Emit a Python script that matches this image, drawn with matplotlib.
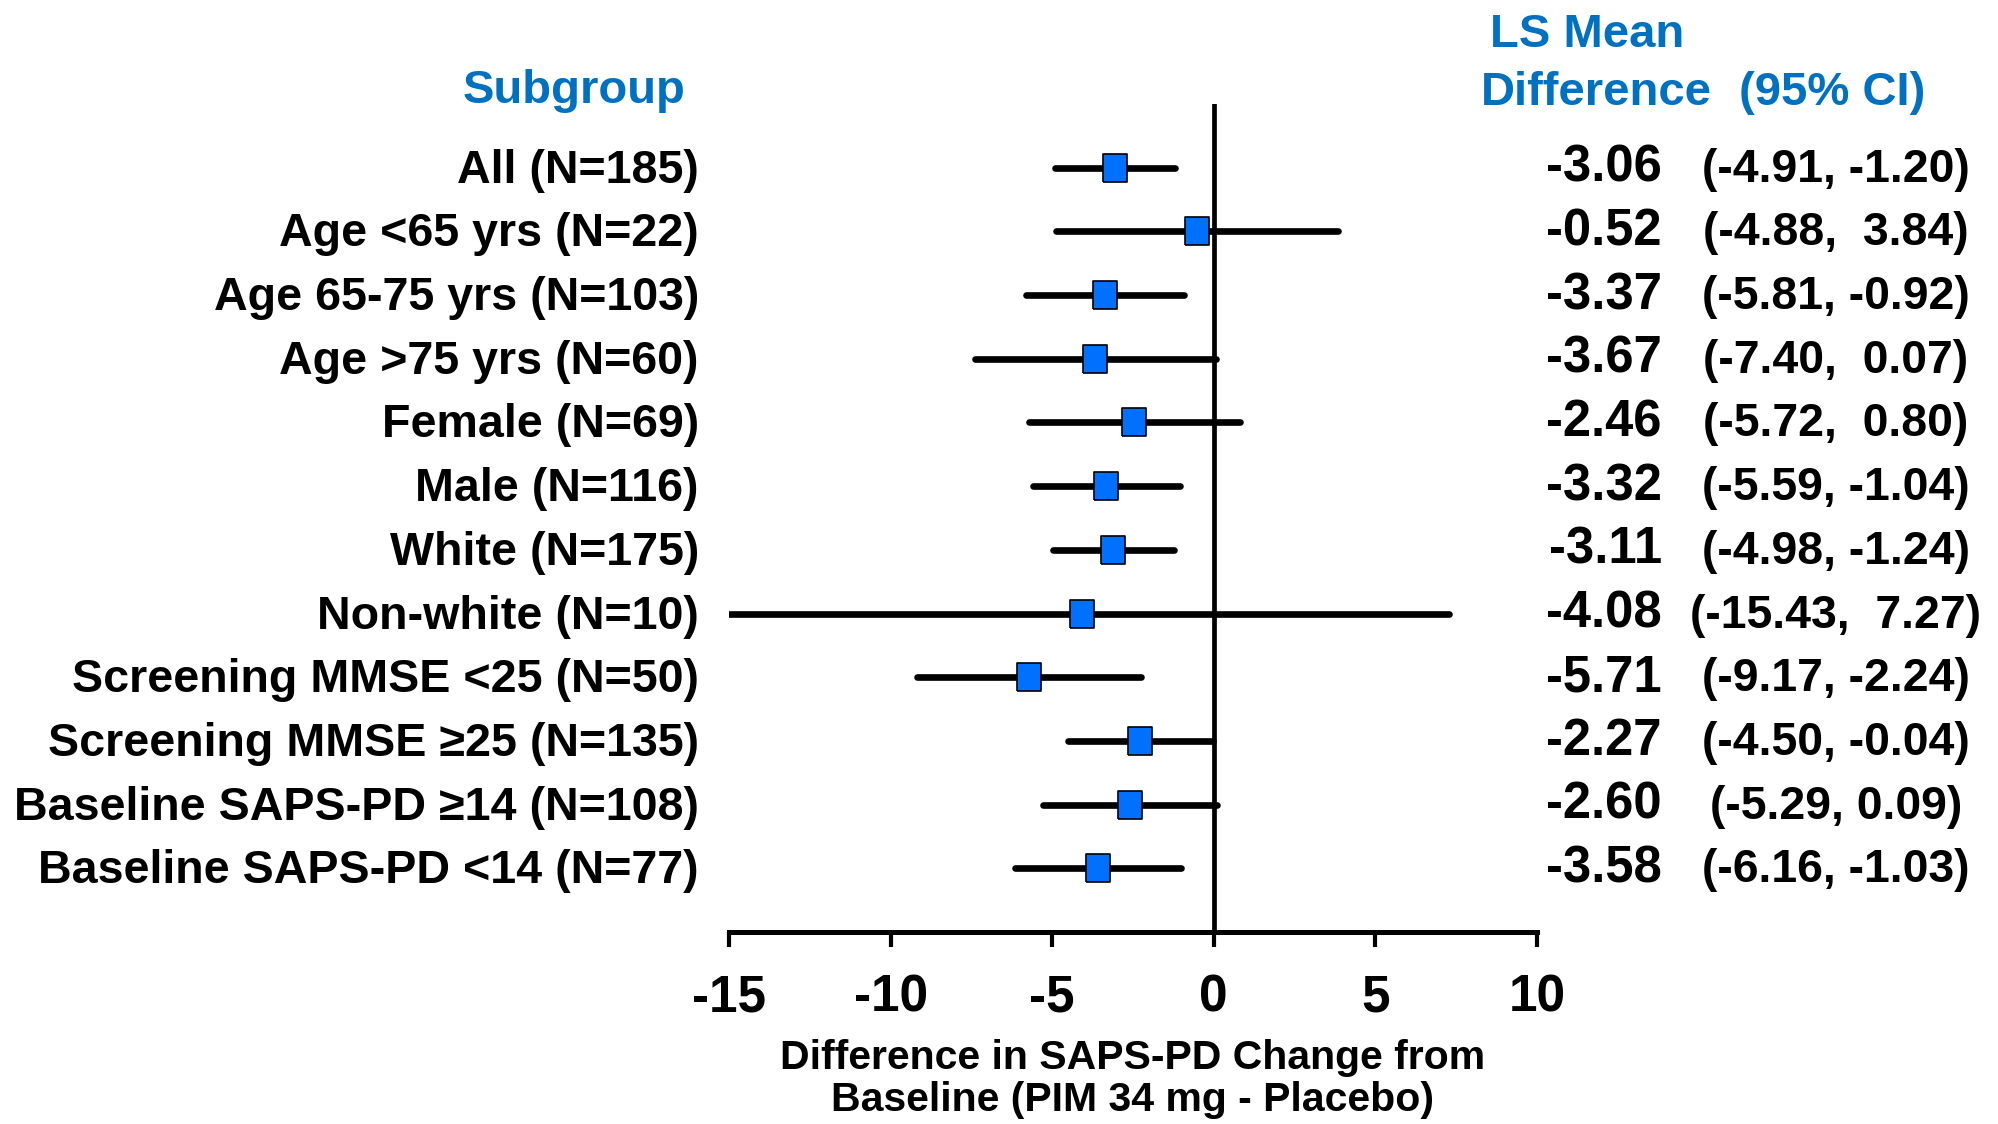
import matplotlib
matplotlib.use("Agg")
import matplotlib.pyplot as plt
from matplotlib import transforms

# Subgroup forest plot data
labels = [
    "All (N=185)",
    "Age <65 yrs (N=22)",
    "Age 65-75 yrs (N=103)",
    "Age >75 yrs (N=60)",
    "Female (N=69)",
    "Male (N=116)",
    "White (N=175)",
    "Non-white (N=10)",
    "Screening MMSE <25 (N=50)",
    "Screening MMSE \u226525 (N=135)",
    "Baseline SAPS-PD \u226514 (N=108)",
    "Baseline SAPS-PD <14 (N=77)",
]
means = [-3.06, -0.52, -3.37, -3.67, -2.46, -3.32, -3.11, -4.08, -5.71, -2.27, -2.60, -3.58]
ci_low = [-4.91, -4.88, -5.81, -7.40, -5.72, -5.59, -4.98, -15.43, -9.17, -4.50, -5.29, -6.16]
ci_high = [-1.20, 3.84, -0.92, 0.07, 0.80, -1.04, -1.24, 7.27, -2.24, -0.04, 0.09, -1.03]
ci_sep = [" ", "  ", " ", "  ", "  ", " ", " ", "  ", " ", " ", " ", " "]
x_ticks = [-15, -10, -5, 0, 5, 10]

plt.rcParams["font.family"] = ["Liberation Sans", "DejaVu Sans"]
plt.rcParams["font.weight"] = "bold"
plt.rcParams["axes.unicode_minus"] = False

W, H = 1999, 1124
BLUE_HDR = "#0070C0"
BLUE_MK = "#0070FF"

fig = plt.figure(figsize=(W / 100, H / 100), dpi=100)
ax = fig.add_axes([729 / W, 1 - 932 / H, (1537 - 729) / W, (932 - 104) / H])

n = len(labels)
ypos = [n - i for i in range(n)]
ax.set_xlim(x_ticks[0], x_ticks[-1])
ax.set_ylim(0, n + 1)

# reference line at zero
ax.axvline(0, color="black", lw=3.4, zorder=1)

# confidence intervals and point estimates
for lo, hi, yy in zip(ci_low, ci_high, ypos):
    ax.plot([lo, hi], [yy, yy], color="black", lw=4.8, solid_capstyle="round", zorder=2)
sq = [(-0.446, -0.5), (0.446, -0.5), (0.446, 0.5), (-0.446, 0.5), (-0.446, -0.5)]
ax.plot(means, ypos, linestyle="none", marker=sq, ms=20, mfc=BLUE_MK, mec="black",
        mew=1.2, zorder=3)

for side in ("top", "right", "left"):
    ax.spines[side].set_visible(False)
ax.spines["bottom"].set_linewidth(3.6)
ax.set_yticks([])
ax.set_xticks(x_ticks)
ax.set_xticklabels([str(t) for t in x_ticks])
ax.tick_params(axis="x", length=10.8, width=3, direction="out", pad=19, labelsize=37)
for lbl in ax.get_xticklabels():
    lbl.set_fontweight("bold")

# row text: x in figure fraction, y in data units
row_tr = transforms.blended_transform_factory(fig.transFigure, ax.transData)


def shifted(px):
    return row_tr + transforms.ScaledTranslation(0, -px / 100, fig.dpi_scale_trans)


for lab, m, lo, hi, sep, yy in zip(labels, means, ci_low, ci_high, ci_sep, ypos):
    fig.text(699 / W, yy, lab, transform=shifted(15), ha="right", va="baseline",
             fontsize=33.6, fontweight="bold", color="black")
    fig.text(1662 / W, yy, f"{m:.2f}", transform=shifted(14), ha="right", va="baseline",
             fontsize=36.5, fontweight="bold", color="black")
    fig.text(1836 / W, yy, f"({lo:.2f},{sep}{hi:.2f})", transform=shifted(14), ha="center",
             va="baseline", fontsize=33.4, fontweight="bold", color="black")

# column headers
hdr = dict(ha="center", va="baseline", fontsize=34, fontweight="bold", color=BLUE_HDR)
fig.text(574 / W, 1 - 103 / H, "Subgroup", **hdr)
fig.text(1587 / W, 1 - 47 / H, "LS Mean", **hdr)
fig.text(1596 / W, 1 - 105 / H, "Difference", **hdr)
fig.text(1832 / W, 1 - 105 / H, "(95% CI)", **hdr)

# x-axis title
xl = dict(ha="center", va="baseline", fontsize=29.5, fontweight="bold", color="black")
fig.text(1133 / W, 1 - 1069 / H, "Difference in SAPS-PD Change from", **xl)
fig.text(1133 / W, 1 - 1111 / H, "Baseline (PIM 34 mg - Placebo)", **xl)

fig.savefig("out.png", dpi=100, facecolor="white")
